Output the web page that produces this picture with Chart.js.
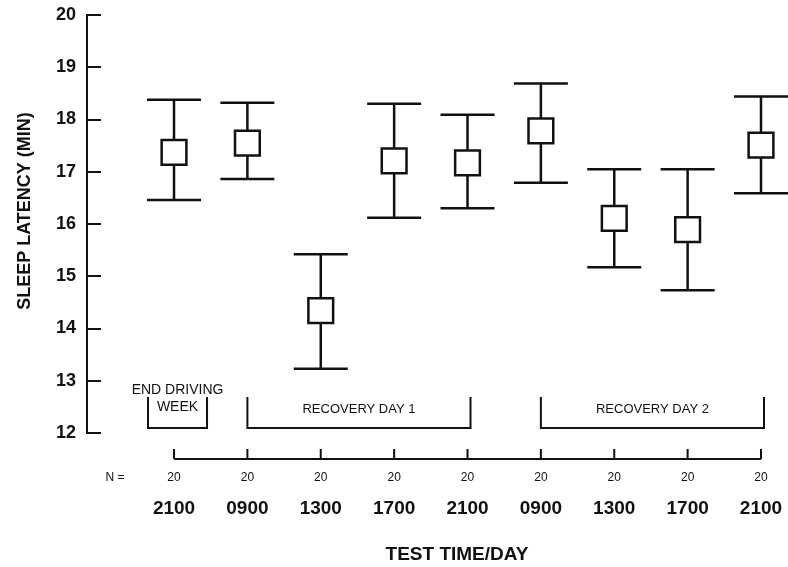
<!DOCTYPE html>
<html>
<head>
<meta charset="utf-8">
<script src="https://cdn.jsdelivr.net/npm/chart.js@4/dist/chart.umd.min.js"></script>
<style>
  html, body { margin: 0; padding: 0; background: #fff; }
  #wrap { width: 788px; height: 567px; }
</style>
</head>
<body>
<div id="wrap"><canvas id="latency-chart" width="788" height="567"></canvas></div>
<script>
// Test time of day for each session
const testTimes = ['2100', '0900', '1300', '1700', '2100', '0900', '1300', '1700', '2100'];
// Subjects per session
const nCounts = [20, 20, 20, 20, 20, 20, 20, 20, 20];
// Mean sleep latency (min) and error bar ends
const meanLatency = [17.37, 17.55, 14.34, 17.21, 17.17, 17.78, 16.11, 15.89, 17.51];
const upperLatency = [18.38, 18.32, 15.42, 18.30, 18.09, 18.69, 17.05, 17.05, 18.44];
const lowerLatency = [16.46, 16.86, 13.23, 16.12, 16.30, 16.79, 15.17, 14.73, 16.59];
// Y axis ticks
const yTicks = [12, 13, 14, 15, 16, 17, 18, 19, 20];
// Period brackets: label lines, first and last session index
const periodLabels = [['END DRIVING', 'WEEK'], ['RECOVERY DAY 1'], ['RECOVERY DAY 2']];
const periodStart = [0, 1, 5];
const periodEnd = [0, 4, 8];

const FONT = '"Liberation Sans", Arial, Helvetica, sans-serif';
const INK = '#111';

// Error bars drawn under the squares
const errorBars = {
    id: 'errorBars',
    beforeDatasetsDraw(chart) {
        const { ctx, scales: { x, y } } = chart;
        ctx.save();
        ctx.strokeStyle = INK;
        ctx.lineWidth = 2.5;
        meanLatency.forEach((m, i) => {
            const px = x.getPixelForValue(i);
            const yu = y.getPixelForValue(upperLatency[i]);
            const yl = y.getPixelForValue(lowerLatency[i]);
            ctx.beginPath();
            ctx.moveTo(px, yu); ctx.lineTo(px, yl);
            ctx.moveTo(px - 27, yu); ctx.lineTo(px + 27, yu);
            ctx.moveTo(px - 27, yl); ctx.lineTo(px + 27, yl);
            ctx.stroke();
        });
        ctx.restore();
    }
};

// Inward y ticks, the lower time axis, N row, time labels, period brackets and axis titles
const extras = {
    id: 'extras',
    afterDraw(chart) {
        const { ctx, chartArea, scales: { x, y } } = chart;
        ctx.save();
        ctx.strokeStyle = INK;
        ctx.fillStyle = INK;
        ctx.lineWidth = 2;

        // y ticks pointing into the plot
        yTicks.forEach(v => {
            const py = Math.round(y.getPixelForValue(v));
            ctx.beginPath();
            ctx.moveTo(chartArea.left, py);
            ctx.lineTo(chartArea.left + 14, py);
            ctx.stroke();
        });

        // time axis line with upward ticks
        const axisY = 459;
        const x0 = x.getPixelForValue(0);
        const x8 = x.getPixelForValue(testTimes.length - 1);
        ctx.beginPath();
        ctx.moveTo(x0, axisY); ctx.lineTo(x8, axisY);
        testTimes.forEach((t, i) => {
            const px = x.getPixelForValue(i);
            ctx.moveTo(px, axisY); ctx.lineTo(px, axisY - 10);
        });
        ctx.stroke();

        // N row and time labels
        ctx.textBaseline = 'middle';
        ctx.textAlign = 'center';
        ctx.font = '12px ' + FONT;
        ctx.fillText('N =', 115, 478);
        nCounts.forEach((n, i) => {
            ctx.fillText(String(n), x.getPixelForValue(i), 478);
        });
        ctx.font = 'bold 19px ' + FONT;
        testTimes.forEach((t, i) => {
            ctx.fillText(t, x.getPixelForValue(i), 509);
        });

        // period brackets
        const bTop = 397, bBot = 428;
        periodLabels.forEach((lines, k) => {
            let left, right;
            if (periodStart[k] === periodEnd[k]) {
                left = x.getPixelForValue(periodStart[k]) - 26;
                right = x.getPixelForValue(periodEnd[k]) + 33;
            } else {
                left = x.getPixelForValue(periodStart[k]);
                right = x.getPixelForValue(periodEnd[k]) + 3;
            }
            ctx.beginPath();
            ctx.moveTo(left, bTop); ctx.lineTo(left, bBot);
            ctx.lineTo(right, bBot); ctx.lineTo(right, bTop);
            ctx.stroke();
            const cx = (left + right) / 2;
            if (lines.length === 2) {
                ctx.font = '14px ' + FONT;
                ctx.fillText(lines[0], cx, 390);
                ctx.fillText(lines[1], cx, 407);
            } else {
                ctx.font = '13px ' + FONT;
                ctx.fillText(lines[0], cx, 409);
            }
        });

        // axis titles
        ctx.font = 'bold 19px ' + FONT;
        ctx.fillText('TEST TIME/DAY', 457, 555);
        ctx.translate(25, 211);
        ctx.rotate(-Math.PI / 2);
        ctx.font = 'bold 18px ' + FONT;
        ctx.fillText('SLEEP LATENCY (MIN)', 0, 0);
        ctx.restore();
    }
};

const ctx = document.getElementById('latency-chart').getContext('2d');
new Chart(ctx, {
    type: 'scatter',
    data: {
        datasets: [{
            label: 'Sleep latency',
            data: meanLatency.map((m, i) => ({ x: i, y: m })),
            pointStyle: 'rect',
            pointRadius: 17.5,
            pointHoverRadius: 17.5,
            pointBorderWidth: 2.5,
            pointBackgroundColor: '#fff',
            pointBorderColor: INK
        }]
    },
    options: {
        responsive: false,
        animation: false,
        events: [],
        layout: { autoPadding: false, padding: { top: 15, left: 0, right: 0, bottom: 0 } },
        plugins: {
            legend: { display: false },
            tooltip: { enabled: false }
        },
        scales: {
            x: {
                type: 'linear',
                min: -1.186,
                max: 8.368,
                afterFit: scale => { scale.height = 134; },
                grid: { display: false },
                border: { display: false },
                ticks: { display: false }
            },
            y: {
                min: 12,
                max: 20,
                afterBuildTicks: scale => {
                    scale.ticks = yTicks.map(v => ({ value: v }));
                },
                afterFit: scale => {
                    scale.width = 87;
                    scale.paddingTop = 0;
                    scale.paddingBottom = 0;
                },
                grid: { drawOnChartArea: false, drawTicks: false },
                border: { display: true, color: INK, width: 2 },
                ticks: {
                    padding: 11,
                    color: INK,
                    font: { family: FONT, size: 18, weight: 'bold' }
                }
            }
        }
    },
    plugins: [errorBars, extras]
});
</script>
</body>
</html>
